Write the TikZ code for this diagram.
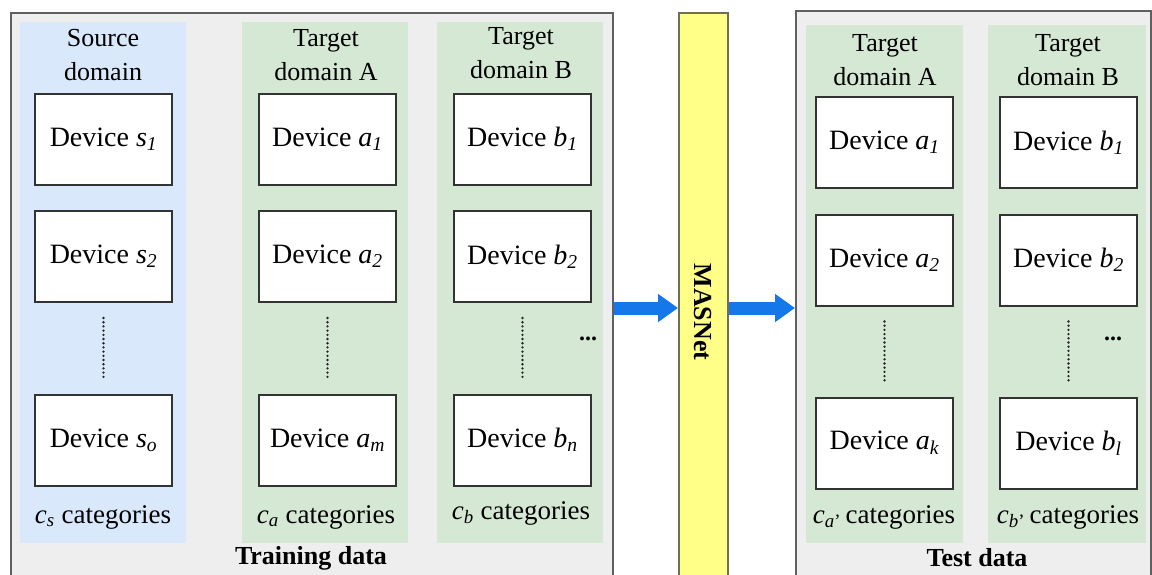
\documentclass[tikz,border=0pt]{standalone}
\usepackage{fontspec}
\setmainfont{Liberation Serif}
\usetikzlibrary{arrows.meta}
\definecolor{outerfill}{HTML}{EEEEEE}
\definecolor{outerline}{HTML}{606060}
\definecolor{srcblue}{HTML}{DAE8FC}
\definecolor{tgtgreen}{HTML}{D5E8D4}
\definecolor{masyellow}{HTML}{FFFF88}
\definecolor{masline}{HTML}{707050}
\definecolor{arrowblue}{HTML}{1478EB}
\tikzset{
  outerbox/.style={draw=outerline, fill=outerfill, line width=1.5pt, anchor=north west, inner sep=0pt},
  srccol/.style={fill=srcblue, draw=none, anchor=north west, inner sep=0pt},
  tgtcol/.style={fill=tgtgreen, draw=none, anchor=north west, inner sep=0pt},
  devbox/.style={draw=black!80, fill=white, line width=2pt, minimum width=137pt, minimum height=91pt, inner sep=0pt,
     font=\fontsize{28}{32}\selectfont},
  hdr/.style={align=center, font=\fontsize{26}{34}\selectfont},
  cat/.style={font=\fontsize{27}{30}\selectfont},
  title/.style={font=\fontsize{26}{30}\selectfont\bfseries},
  dotline/.style={line width=2.6pt, line cap=round, dash pattern=on 0pt off 4.2pt, black!85},
  moredots/.style={font=\fontsize{24}{26}\selectfont\bfseries},
  bigarrow/.style={arrowblue, line width=13pt, -{Triangle[width=27pt,length=20pt]}},
}
\newcommand{\dev}[2]{Device \textit{#1}\textsubscript{\textit{#2}}}
\begin{document}
\begin{tikzpicture}[x=1pt,y=-1pt]
\useasboundingbox (0,0) rectangle (1152,574);
\clip (0,0) rectangle (1152,574);
\fill[white] (0,0) rectangle (1152,574);

% outer boxes
\node[outerbox, minimum width=602pt, minimum height=580pt] (train) at (10,12) {};
\node[outerbox, minimum width=355pt, minimum height=580pt] (test) at (795,10) {};
\node[draw=masline, fill=masyellow, line width=1.5pt, anchor=north west, inner sep=0pt,
      minimum width=49pt, minimum height=580pt] (mas) at (678,12) {};

% columns
\node[srccol, minimum width=166pt, minimum height=521pt] (colS) at (20,22) {};
\node[tgtcol, minimum width=166pt, minimum height=521pt] (colA) at (242,22) {};
\node[tgtcol, minimum width=166pt, minimum height=521pt] (colB) at (437,22) {};
\node[tgtcol, minimum width=157pt, minimum height=518pt] (colTA) at (806,25) {};
\node[tgtcol, minimum width=158pt, minimum height=518pt] (colTB) at (988,25) {};

% headers
\node[hdr] (hS) at (103,55) {Source\\domain};
\node[hdr] (hA) at (326,55) {Target\\domain A};
\node[hdr] (hB) at (521,53) {Target\\domain B};
\node[hdr] (hTA) at (885,60) {Target\\domain A};
\node[hdr] (hTB) at (1068,60) {Target\\domain B};

% training devices
\node[devbox] (s1) at (103.5,139) {\dev{s}{1}};
\node[devbox] (s2) at (103.5,256.5) {\dev{s}{2}};
\node[devbox] (s3) at (103.5,440) {\dev{s}{o}};
\node[devbox] (a1) at (327.5,139) {\dev{a}{1}};
\node[devbox] (a2) at (327.5,256.5) {\dev{a}{2}};
\node[devbox] (a3) at (327.5,440) {\dev{a}{m}};
\node[devbox] (b1) at (522.5,139) {\dev{b}{1}};
\node[devbox] (b2) at (522.5,256.5) {\dev{b}{2}};
\node[devbox] (b3) at (522.5,440) {\dev{b}{n}};

% test devices
\node[devbox] (ta1) at (884.5,142.5) {\dev{a}{1}};
\node[devbox] (ta2) at (884.5,260) {\dev{a}{2}};
\node[devbox] (ta3) at (884.5,443) {\dev{a}{k}};
\node[devbox] (tb1) at (1068.5,142.5) {\dev{b}{1}};
\node[devbox] (tb2) at (1068.5,260) {\dev{b}{2}};
\node[devbox] (tb3) at (1068.5,443) {\dev{b}{l}};

% dotted continuations
\foreach \u/\v in {s2/s3,a2/a3,b2/b3,ta2/ta3,tb2/tb3}
  \draw[dotline] ([yshift=-15pt]\u.south) -- ([yshift=13pt]\v.north);

\node[moredots] (dots1) at (588,339) {...};
\node[moredots] (dots2) at (1113,339) {...};

% categories
\node[cat] (cS) at (103,517) {\textit{c}\textsubscript{\textit{s}} categories};
\node[cat] (cA) at (326,517) {\textit{c}\textsubscript{\textit{a}} categories};
\node[cat] (cB) at (521,513) {\textit{c}\textsubscript{\textit{b}} categories};
\node[cat] (cTA) at (884,517) {\textit{c}\textsubscript{\textit{a}'}\,categories};
\node[cat] (cTB) at (1068,517) {\textit{c}\textsubscript{\textit{b}'}\,categories};

% titles
\node[title] (tTrain) at (311,558) {Training data};
\node[title] (tTest) at (977,558) {Test data};
\node[title, rotate=-90] (masText) at (702.5,312) {MASNet};

% arrows
\draw[bigarrow] (train.east |- 0,308) -- (mas.west |- 0,308);
\draw[bigarrow] (mas.east |- 0,308) -- (test.west |- 0,308);
\end{tikzpicture}
\end{document}
